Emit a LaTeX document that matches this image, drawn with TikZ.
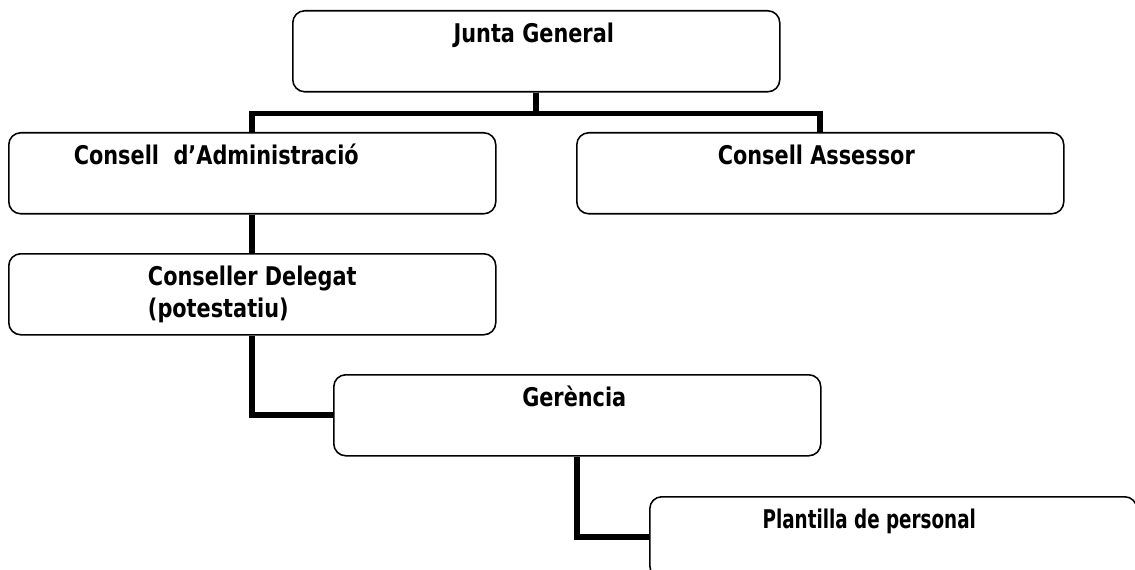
\documentclass[tikz,border=0pt]{standalone}
\usepackage{fontspec}
\newfontfamily\orgfont[FakeStretch=0.9]{DejaVu Sans Condensed}
\newlength\pxl \setlength\pxl{0.025cm}
% text of a box: top aligned, first baseline 32px under the border
\newcommand{\boxlbl}[2][0pt]{\parbox[b][81\pxl][t]{487\pxl}{\centering\rule{0pt}{32\pxl}#2\hspace*{#1}}}
\tikzset{
  orgbox/.style={draw, line width=1.1pt, rounded corners=0.3cm, anchor=north west,
    minimum width=487\pxl, minimum height=81\pxl, inner sep=0pt,
    font=\orgfont\bfseries\fontsize{18.3}{22.5}\selectfont},
  link/.style={line width=4pt}
}

\begin{document}
\begin{tikzpicture}[x=0.025cm, y=-0.025cm]
  \useasboundingbox (0,0) rectangle (1135,570);
  \clip (0,0) rectangle (1135,570);
  % boxes
  \node[orgbox] (junta)     at (292, 10) {\boxlbl[5\pxl]{Junta General}};
  \node[orgbox] (admin)     at (  8,132) {\boxlbl[72\pxl]{Consell\ \ d’Administració}};
  \node[orgbox] (assessor)  at (576,132) {\boxlbl[8\pxl]{Consell Assessor}};
  \node[orgbox] (delegat)   at (  8,253) {\boxlbl{\begin{tabular}[t]{@{}l@{}}Conseller Delegat\\(potestatiu)\end{tabular}}};
  \node[orgbox] (gerencia)  at (333,374) {\boxlbl[6\pxl]{Gerència}};
  \node[orgbox] (plantilla) at (649,496) {\boxlbl[48\pxl]{\scalebox{0.88}[1]{Plantilla de personal}}};
  % connectors
  \coordinate (hub) at ([yshift=-21\pxl]junta.south);
  \draw[link] (junta.south) -- (hub);
  \draw[link] (admin.north) |- (hub) -| (assessor.north);
  \draw[link] (admin.south) -- (delegat.north);
  \draw[link] (delegat.south) |- (gerencia.west);
  \draw[link] (gerencia.south) |- (plantilla.west);
\end{tikzpicture}
\end{document}
